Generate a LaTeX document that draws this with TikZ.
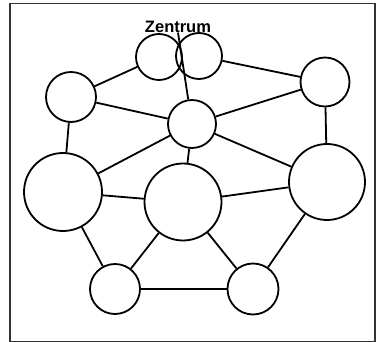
\documentclass[tikz,border=0pt]{standalone}
\usepackage{fontspec}
\setmainfont{Liberation Sans}
\usetikzlibrary{positioning}

\begin{document}
\begin{tikzpicture}[
x=1pt, y=-1pt,
Knoten/.style={draw=black,fill=white,circle,inner sep=0pt,line width=1.8pt},
Kanten/.style={draw=black,line width=1.8pt},
Rahmen/.style={draw=black!80,line width=1.8pt}
]
\useasboundingbox (0,0) rectangle (376,342);
\clip (0,0) rectangle (376,342);

% frame
\draw[Rahmen] (10,3.5) rectangle (375,342.3);

% label on top
\node[font=\bfseries\fontsize{16.5}{18}\selectfont, inner sep=1pt] (zentrum) at (178,27) {Zentrum};

% nodes
\node[Knoten, minimum size=46pt] (zl) at (159,57) {};
\node[Knoten, minimum size=46pt, fill=none] (zr) at (199,56) {};
\node[Knoten, minimum size=50pt] (ol) at (71,97) {};
\node[Knoten, minimum size=49pt] (or) at (325,82) {};
\node[Knoten, minimum size=48pt] (mitte) at (192,124) {};
\node[Knoten, minimum size=78pt] (gl) at (63,192) {};
\node[Knoten, minimum size=77pt] (gm) at (183,202) {};
\node[Knoten, minimum size=76pt] (gr) at (327,182) {};
\node[Knoten, minimum size=50pt] (ul) at (115,289) {};
\node[Knoten, minimum size=51pt] (ur) at (253,289) {};

% edges
\draw[Kanten] (zentrum.base) -- (mitte);
\draw[Kanten] (zl) -- (ol);
\draw[Kanten] (zr) -- (or);
\draw[Kanten] (ol) -- (mitte);
\draw[Kanten] (or) -- (mitte);
\draw[Kanten] (ol) -- (gl);
\draw[Kanten] (or) -- (gr);
\draw[Kanten] (mitte) -- (gl);
\draw[Kanten] (mitte) -- (gr);
\draw[Kanten] (mitte) -- (gm);
\draw[Kanten] (gl) -- (gm);
\draw[Kanten] (gm) -- (gr);
\draw[Kanten] (gl) -- (ul);
\draw[Kanten] (gm) -- (ul);
\draw[Kanten] (gm) -- (ur);
\draw[Kanten] (gr) -- (ur);
\draw[Kanten] (ul) -- (ur);

\end{tikzpicture}
\end{document}
